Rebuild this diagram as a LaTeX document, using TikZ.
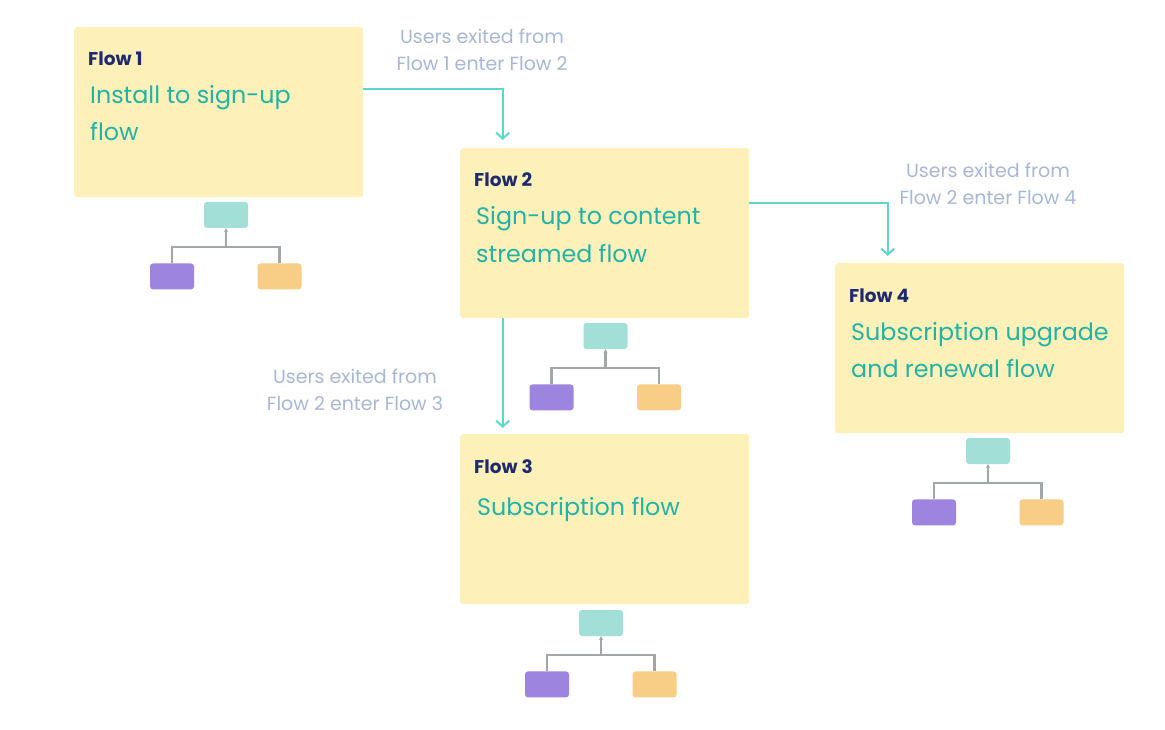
\documentclass[tikz,border=0pt]{standalone}
\usepackage{fontspec}
\setmainfont{Poppins}
\usetikzlibrary{positioning,arrows.meta}

\definecolor{flowyellow}{HTML}{FDF1B9}
\definecolor{flownavy}{HTML}{1E2A6E}
\definecolor{flowteal}{HTML}{22B2A8}
\definecolor{arrowteal}{HTML}{5ED6CC}
\definecolor{notegrey}{HTML}{A9B7D6}
\definecolor{treeteal}{HTML}{A2DFD7}
\definecolor{treepurple}{HTML}{9C84DF}
\definecolor{treeorange}{HTML}{F8CD86}
\definecolor{treegrey}{HTML}{A2A6A8}

\begin{document}
\begin{tikzpicture}[x=1pt, y=-1pt,
  flowbox/.style={fill=flowyellow, rounded corners=3pt, minimum width=289pt, minimum height=170pt,
    anchor=north west, inner sep=0pt},
  flowtitle/.style={anchor=base west, inner sep=0pt, text=flownavy, font=\fontsize{18.5}{20}\selectfont\bfseries},
  flowname/.style={anchor=base west, inner sep=0pt, text=flowteal, font=\fontsize{23.8}{28}\selectfont},
  exitnote/.style={align=center, inner sep=0pt, text=notegrey, font=\fontsize{19}{27}\selectfont},
  flowarrow/.style={draw=arrowteal, line width=2pt, -{Straight Barb[length=6pt,width=13pt]}},
  treebox/.style={rounded corners=3pt, minimum width=44pt, minimum height=26pt, inner sep=0pt},
  treeline/.style={draw=treegrey, line width=2.2pt}]

  \fill[white] (0,0) rectangle (1165,730);

  % flow boxes
  \foreach \i/\x/\y in {1/74/27, 2/460/148, 3/460/434, 4/835/263}
    \node[flowbox] (f\i) at (\x,\y) {};
  \foreach \i in {1,...,4}
    \node[flowtitle] (h\i) at ([shift={(14,39)}]f\i.north west) {Flow \i};

  \node[flowname] (n1a) at ([shift={(16,77)}]f1.north west) {Install to sign-up};
  \node[flowname] (n1b) at ([shift={(16,114)}]f1.north west) {flow};
  \node[flowname] (n2a) at ([shift={(16,77)}]f2.north west) {Sign-up to content};
  \node[flowname] (n2b) at ([shift={(16,114)}]f2.north west) {streamed flow};
  \node[flowname] (n3a) at ([shift={(17,81)}]f3.north west) {Subscription flow};
  \node[flowname] (n4a) at ([shift={(16,77)}]f4.north west) {Subscription upgrade};
  \node[flowname] (n4b) at ([shift={(16,114)}]f4.north west) {and renewal flow};

  % trees under each box
  \foreach \i/\x/\y in {1/226/215, 2/605.5/336, 3/601/623, 4/988/451} {
    \node[treebox, fill=treeteal] (t\i) at (\x,\y) {};
    \node[treebox, fill=treepurple, below=35pt of t\i.south, xshift=-54pt] (p\i) {};
    \node[treebox, fill=treeorange, below=35pt of t\i.south, xshift=53.5pt] (o\i) {};
    \coordinate (j\i) at ([yshift=-19pt]t\i.south);
    \draw[treeline] (p\i.north) |- (j\i) -| (o\i.north);
    \draw[treeline, -{Stealth[length=4pt,width=4pt]}] (j\i) -- (t\i.south);
  }

  % exits between flows
  \draw[flowarrow] ([yshift=23pt]f1.east) -| ([xshift=-102pt, yshift=8pt]f2.north);
  \draw[flowarrow] ([yshift=30pt]f2.east) -| ([xshift=-92pt, yshift=7pt]f4.north);
  \draw[flowarrow] ([xshift=-102pt]f2.south) -- ([xshift=-102pt, yshift=6pt]f3.north);

  \node[exitnote] (x12) at (482,50) {Users exited from\\Flow 1 enter Flow 2};
  \node[exitnote] (x24) at (988,184) {Users exited from\\Flow 2 enter Flow 4};
  \node[exitnote] (x23) at (355,390) {Users exited from\\Flow 2 enter Flow 3};
\end{tikzpicture}
\end{document}
